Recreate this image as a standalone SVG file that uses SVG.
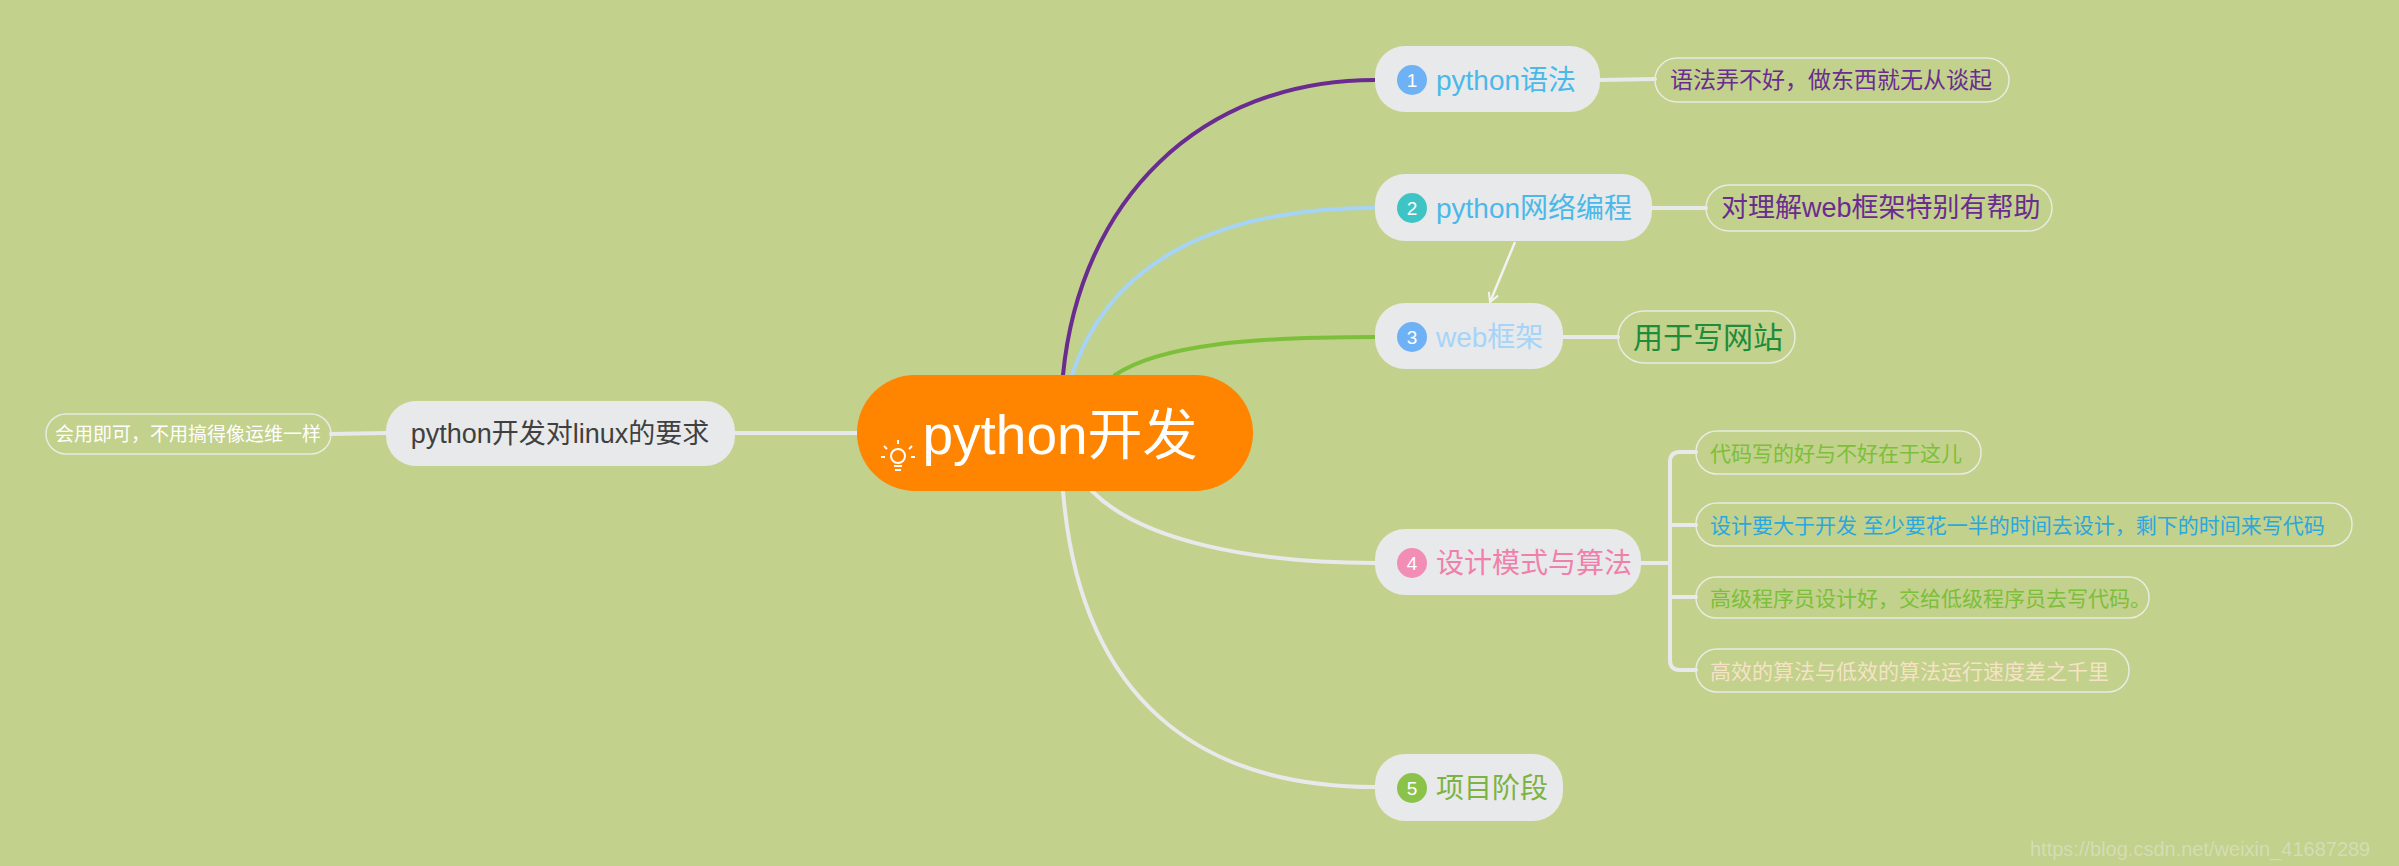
<svg xmlns="http://www.w3.org/2000/svg" width="2399" height="866" viewBox="0 0 2399 866">
<defs>
<style>
.n{fill:#e8e9eb}
.note{fill:none;stroke:#e8ebe0;stroke-width:1.5}
.t{font-family:"Liberation Sans","Noto Sans CJK SC",sans-serif;dominant-baseline:central}
.c{fill:none;stroke-width:4;stroke-linecap:round}
.bn{fill:#fff;font-size:19px;text-anchor:middle}
</style>
<marker id="ar" viewBox="0 0 12 12" refX="10" refY="6" markerWidth="12" markerHeight="12" orient="auto" markerUnits="userSpaceOnUse"><path d="M1,1 L10,6 L1,11" fill="none" stroke="#f2f2f2" stroke-width="2"/></marker>
</defs>
<rect width="2399" height="866" fill="#c2d18b"/>
<g id="connectors">
<path class="c" stroke="#6a2c91" d="M1063,375 C1080,200 1200,80 1375,80"/>
<path class="c" stroke="#a6d4f9" d="M1072,375 C1110,260 1220,208 1375,208"/>
<path class="c" stroke="#7cbf3a" d="M1115,375 C1160,345 1250,337 1375,337"/>
<path class="c" stroke="#e8e9eb" d="M1092,491 C1140,540 1250,563 1375,563"/>
<path class="c" stroke="#e8e9eb" d="M1063,491 C1080,700 1200,787 1375,787"/>
<path class="c" stroke="#e8e9eb" d="M857,433 L735,433"/>
<path class="c" stroke="#e8e9eb" d="M386,433 L331,434"/>
<path class="c" stroke="#e8e9eb" d="M1600,80 L1655,79"/>
<path class="c" stroke="#e8e9eb" d="M1652,208 L1706,208"/>
<path class="c" stroke="#e8e9eb" d="M1563,337 L1618,337"/>
<path class="c" stroke="#e8e9eb" d="M1641,563 L1670,563 M1696,452 L1680,452 Q1670,452 1670,462 L1670,660 Q1670,670 1680,670 L1696,670 M1670,525 L1696,525 M1670,597 L1696,597"/>
<path fill="none" stroke="#f2f2f2" stroke-width="2.5" d="M1515,242 L1490,302" marker-end="url(#ar)"/>
</g>
<g id="central">
<rect x="857" y="375" width="396" height="116" rx="58" fill="#ff8400"/>
<text class="t" x="1060" y="435" font-size="55" fill="#fff" text-anchor="middle">python开发</text>
<g fill="none" stroke="#fff" stroke-width="2"><circle cx="898" cy="456" r="7"/><path d="M894,466 h8 M895,470 h6 M898,444 v-4 M887,449 l-3,-3 M909,449 l3,-3 M885,457 h-4 M911,457 h4"/></g>
</g>
<g id="node1"><rect class="n" x="1375" y="46" width="225" height="66" rx="30"/><circle cx="1412" cy="80" r="15" fill="#6fb1f5"/><text class="t bn" x="1412" y="80">1</text><text class="t" x="1436" y="80" font-size="28" fill="#4ab9ea">python语法</text></g>
<g id="note1"><rect class="note" x="1655" y="58" width="354" height="44" rx="22"/><text class="t" x="1670" y="80" font-size="23" fill="#6a2c91">语法弄不好，做东西就无从谈起</text></g>
<g id="node2"><rect class="n" x="1375" y="174" width="277" height="67" rx="30"/><circle cx="1412" cy="208" r="15" fill="#3ec4c4"/><text class="t bn" x="1412" y="208">2</text><text class="t" x="1436" y="208" font-size="28" fill="#4ab9ea">python网络编程</text></g>
<g id="note2"><rect class="note" x="1706" y="185" width="346" height="46" rx="23"/><text class="t" x="1721" y="208" font-size="27" fill="#6a2c91">对理解web框架特别有帮助</text></g>
<g id="node3"><rect class="n" x="1375" y="303" width="188" height="66" rx="30"/><circle cx="1412" cy="337" r="15" fill="#6fb1f5"/><text class="t bn" x="1412" y="337">3</text><text class="t" x="1436" y="337" font-size="28" fill="#a6d4f9">web框架</text></g>
<g id="note3"><rect class="note" x="1618" y="311" width="177" height="52" rx="26"/><text class="t" x="1633" y="337" font-size="30" fill="#1e8c3a">用于写网站</text></g>
<g id="node4"><rect class="n" x="1375" y="529" width="266" height="66" rx="30"/><circle cx="1412" cy="563" r="15" fill="#f28eb6"/><text class="t bn" x="1412" y="563">4</text><text class="t" x="1436" y="563" font-size="28" fill="#f080aa">设计模式与算法</text></g>
<g id="note4a"><rect class="note" x="1696" y="431" width="285" height="43" rx="21"/><text class="t" x="1710" y="453" font-size="21" fill="#7cbf3a">代码写的好与不好在于这儿</text></g>
<g id="note4b"><rect class="note" x="1696" y="503" width="656" height="43" rx="21"/><text class="t" x="1710" y="525" font-size="21" fill="#29a8e0">设计要大于开发  至少要花一半的时间去设计，剩下的时间来写代码</text></g>
<g id="note4c"><rect class="note" x="1696" y="577" width="453" height="41" rx="20"/><text class="t" x="1710" y="598" font-size="21" fill="#7cbf3a">高级程序员设计好，交给低级程序员去写代码。</text></g>
<g id="note4d"><rect class="note" x="1696" y="649" width="433" height="43" rx="21"/><text class="t" x="1710" y="671" font-size="21" fill="#f6e3c6">高效的算法与低效的算法运行速度差之千里</text></g>
<g id="node5"><rect class="n" x="1375" y="754" width="188" height="67" rx="30"/><circle cx="1412" cy="788" r="15" fill="#8bc34a"/><text class="t bn" x="1412" y="788">5</text><text class="t" x="1436" y="788" font-size="28" fill="#7cb342">项目阶段</text></g>
<g id="nodeL"><rect class="n" x="386" y="401" width="349" height="65" rx="30"/><text class="t" x="560" y="434" font-size="27" fill="#404040" text-anchor="middle">python开发对linux的要求</text></g>
<g id="noteL"><rect class="note" x="46" y="414" width="285" height="40" rx="20"/><text class="t" x="188" y="434" font-size="19" fill="#fff" text-anchor="middle">会用即可，不用搞得像运维一样</text></g>
<text class="t" x="2030" y="849" font-size="20" fill="#d8e0c0" opacity="0.8">https://blog.csdn.net/weixin_41687289</text>
</svg>
